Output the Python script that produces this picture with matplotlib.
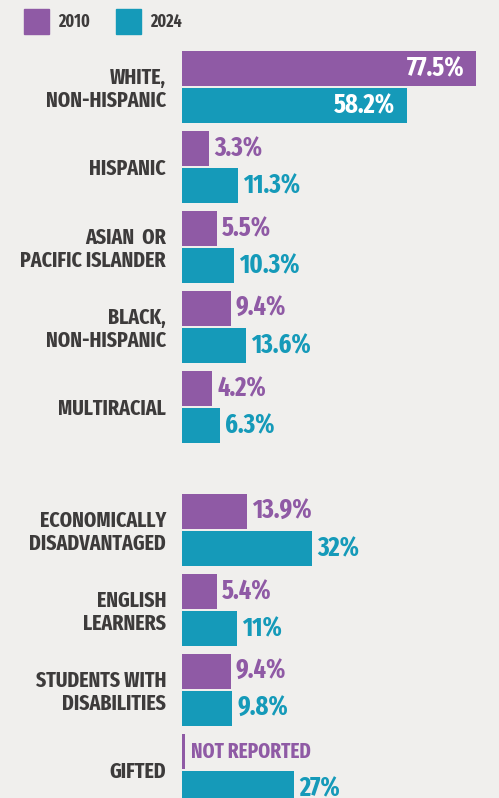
import matplotlib
matplotlib.use("Agg")
import matplotlib.pyplot as plt
import matplotlib.patches as mpatches

# data
categories = ["WHITE,\nNON-HISPANIC", "HISPANIC", "ASIAN  OR\nPACIFIC ISLANDER",
              "BLACK,\nNON-HISPANIC", "MULTIRACIAL", "ECONOMICALLY\nDISADVANTAGED",
              "ENGLISH\nLEARNERS", "STUDENTS WITH\nDISABILITIES", "GIFTED"]
vals_2010 = [77.5, 3.3, 5.5, 9.4, 4.2, 13.9, 5.4, 9.4, None]
vals_2024 = [58.2, 11.3, 10.3, 13.6, 6.3, 32, 11, 9.8, 27]
labels_2010 = ["77.5%", "3.3%", "5.5%", "9.4%", "4.2%", "13.9%", "5.4%", "9.4%", "NOT REPORTED"]
labels_2024 = ["58.2%", "11.3%", "10.3%", "13.6%", "6.3%", "32%", "11%", "9.8%", "27%"]
years = ["2010", "2024"]

PURPLE = "#8f5aa5"
TEAL = "#159ab9"
BG = "#f0efed"
DARK = "#3d3b3b"
FONT = ["Fira Sans Extra Condensed", "Fira Sans Condensed", "DejaVu Sans"]

plt.rcParams['font.family'] = FONT
plt.rcParams['font.weight'] = 'bold'

W, H = 499, 798
fig = plt.figure(figsize=(W / 100, H / 100), dpi=100, facecolor=BG)

base = 4.2        # visual offset so that small bars stay readable
x0 = 182
ax = fig.add_axes([x0 / W, 0, (W - x0) / W, 1])
ax.set_facecolor(BG)
ax.set_xlim(-base, (W - x0) / 3.6 - base)
ax.set_ylim(H, 0)
ax.axis("off")

bar_h = 35
for i, cat in enumerate(categories):
    top = 51 + 80 * i + (43 if i >= 5 else 0)
    y1 = top + bar_h / 2
    y2 = top + 37 + bar_h / 2
    v1, v2 = vals_2010[i], vals_2024[i]

    if v1 is None:
        ax.barh(y1, 0.8, left=-base, height=bar_h, color=PURPLE)
        ax.annotate(labels_2010[i], xy=(-base, y1), xytext=(9, 0), textcoords="offset pixels",
                    ha="left", va="center", color=PURPLE, fontsize=15)
    else:
        ax.barh(y1, v1 + base, left=-base, height=bar_h, color=PURPLE)
    ax.barh(y2, v2 + base, left=-base, height=bar_h, color=TEAL)

    for v, lab, y, col in ((v1, labels_2010[i], y1, PURPLE), (v2, labels_2024[i], y2, TEAL)):
        if v is None:
            continue
        if v > 50:
            ax.annotate(lab, xy=(v, y), xytext=(-12, 0), textcoords="offset pixels",
                        ha="right", va="center", color="white", fontsize=19)
        else:
            ax.annotate(lab, xy=(v, y), xytext=(5, 0), textcoords="offset pixels",
                        ha="left", va="center", color=col, fontsize=19)

    ax.annotate(cat, xy=(-base, top + 38), xytext=(-16, 0), textcoords="offset pixels",
                ha="right", va="center", color=DARK, fontsize=15.5, linespacing=1.12,
                annotation_clip=False)

# legend
for (lx, col, yr) in ((24, PURPLE, years[0]), (116, TEAL, years[1])):
    fig.add_artist(mpatches.Rectangle((lx / W, 1 - 34 / H), 25 / W, 25 / H,
                                      transform=fig.transFigure, color=col))
    fig.text((lx + 34) / W, 1 - 22 / H, yr, ha="left", va="center",
             color=DARK, fontsize=12.5)

fig.savefig("out.png", dpi=100, facecolor=BG)
